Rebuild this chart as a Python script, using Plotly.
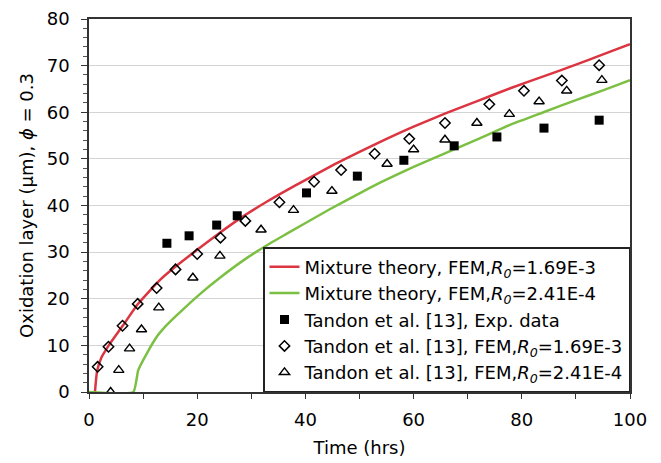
import plotly.graph_objects as go

# Mixture theory, FEM, R0=1.69E-3 (red curve)
red_t = [1.1, 1.5, 2.3, 3.6, 6.3, 9.0, 11.3, 13.0, 16.0, 20.0, 24.0, 28.0, 33.0, 38.0,
         44.5, 50.0, 55.0, 60.0, 66.0, 72.0, 78.0, 84.0, 90.0, 95.0, 100.0]
red_v = [0.0, 4.5, 7.4, 9.9, 14.3, 18.8, 21.8, 23.9, 26.9, 30.5, 34.0, 37.3, 40.9, 44.2,
         48.3, 51.5, 54.3, 56.9, 59.8, 62.5, 65.2, 67.7, 70.2, 72.4, 74.6]

# Mixture theory, FEM, R0=2.41E-4 (green curve)
green_t = [0.0, 8.2, 9.1, 10.7, 12.5, 14.0, 16.0, 20.5, 24.2, 29.0, 33.5, 36.5, 44.5, 50.0,
           53.8, 60.0, 66.0, 72.0, 77.8, 84.0, 90.0, 95.0, 100.0]
green_v = [0.0, 0.0, 4.7, 8.3, 11.8, 13.9, 16.2, 21.0, 24.5, 28.6, 31.9, 33.9, 39.2, 42.6,
           44.9, 48.3, 51.3, 54.3, 57.3, 60.0, 62.6, 64.7, 66.9]

# Tandon et al. [13], Exp. data
exp_t = [14.4, 18.5, 23.6, 27.4, 40.2, 49.6, 58.2, 67.5, 75.4, 84.1, 94.3]
exp_v = [31.9, 33.5, 35.8, 37.8, 42.7, 46.3, 49.7, 52.8, 54.7, 56.6, 58.3]

# Tandon et al. [13], FEM, R0=1.69E-3
dia_t = [1.6, 3.6, 6.2, 9.0, 12.5, 16.0, 20.0, 24.3, 28.9, 35.2, 41.6, 46.6, 52.8, 59.2,
         65.8, 74.0, 80.4, 87.4, 94.3]
dia_v = [5.4, 9.7, 14.2, 18.9, 22.3, 26.3, 29.6, 33.1, 36.7, 40.7, 45.1, 47.6, 51.1, 54.3,
         57.7, 61.7, 64.6, 66.8, 70.1]

# Tandon et al. [13], FEM, R0=2.41E-4
tri_t = [4.0, 5.5, 7.5, 9.7, 12.9, 19.2, 24.2, 31.8, 37.8, 44.9, 55.1, 60.0, 65.8, 71.7,
         77.7, 83.2, 88.3, 94.8]
tri_v = [0.0, 4.7, 9.3, 13.4, 18.1, 24.5, 29.2, 34.8, 39.0, 43.1, 48.9, 52.0, 54.1, 57.7,
         59.6, 62.3, 64.6, 66.9]

R0 = "<i>R<sub>0</sub></i>"
names = [
    f"Mixture theory, FEM,{R0}=1.69E-3",
    f"Mixture theory, FEM,{R0}=2.41E-4",
    "Tandon et al. [13], Exp. data",
    f"Tandon et al. [13], FEM,{R0}=1.69E-3",
    f"Tandon et al. [13], FEM,{R0}=2.41E-4",
]

FONT = "DejaVu Sans, Arial, sans-serif"

fig = go.Figure()
fig.add_trace(go.Scatter(x=red_t, y=red_v, mode="lines", name=names[0],
                         line=dict(color="#dc3542", width=2.5, shape="spline", smoothing=0.5)))
fig.add_trace(go.Scatter(x=green_t, y=green_v, mode="lines", name=names[1],
                         line=dict(color="#7cc043", width=2.5, shape="spline", smoothing=0.4)))
fig.add_trace(go.Scatter(x=exp_t, y=exp_v, mode="markers", name=names[2],
                         marker=dict(symbol="square", size=9, color="black")))
fig.add_trace(go.Scatter(x=dia_t, y=dia_v, mode="markers", name=names[3],
                         marker=dict(symbol="diamond-open", size=8, color="black",
                                     line=dict(width=1.5, color="black"))))
fig.add_trace(go.Scatter(x=tri_t, y=tri_v, mode="markers", name=names[4],
                         marker=dict(symbol="triangle-up-open", size=9, color="black",
                                     line=dict(width=1.4, color="black"))))

fig.update_layout(
    width=661, height=463,
    margin=dict(l=81, r=39, t=11, b=79, autoexpand=False),
    paper_bgcolor="white", plot_bgcolor="white",
    font=dict(family=FONT, size=18, color="black"),
    legend=dict(x=1, y=0, xanchor="right", yanchor="bottom",
                bgcolor="white", bordercolor="#222", borderwidth=1.5,
                font=dict(family=FONT, size=18, color="black"),
                tracegroupgap=0, itemwidth=30),
    xaxis=dict(range=[0, 100], dtick=20, tick0=0, automargin=False,
               ticks="outside", ticklen=5, tickwidth=1, tickcolor="#333",
               minor=dict(dtick=10, ticks="outside", ticklen=5, tickcolor="#333"),
               showgrid=False, zeroline=False,
               showline=True, linecolor="#333", linewidth=1.5, mirror=True,
               tickfont=dict(size=18), ticklabelstandoff=6, ticklabeloverflow="allow",
               title=dict(text="Time (hrs)", font=dict(size=18), standoff=12)),
    yaxis=dict(range=[0, 80], dtick=10, tick0=0, automargin=False,
               ticks="outside", ticklen=6, tickwidth=1, tickcolor="#333",
               minor=dict(dtick=2, ticks="outside", ticklen=4, tickcolor="#555", showgrid=False),
               showgrid=True, gridcolor="#d4d4d4", gridwidth=1, zeroline=False,
               showline=True, linecolor="#333", linewidth=1.5, mirror=True,
               tickfont=dict(size=18), ticklabelstandoff=8, ticklabeloverflow="allow",
               title=dict(text="Oxidation layer (μm), <i>ϕ</i> = 0.3", font=dict(size=18), standoff=8)),
)

fig.write_html("out.html")
